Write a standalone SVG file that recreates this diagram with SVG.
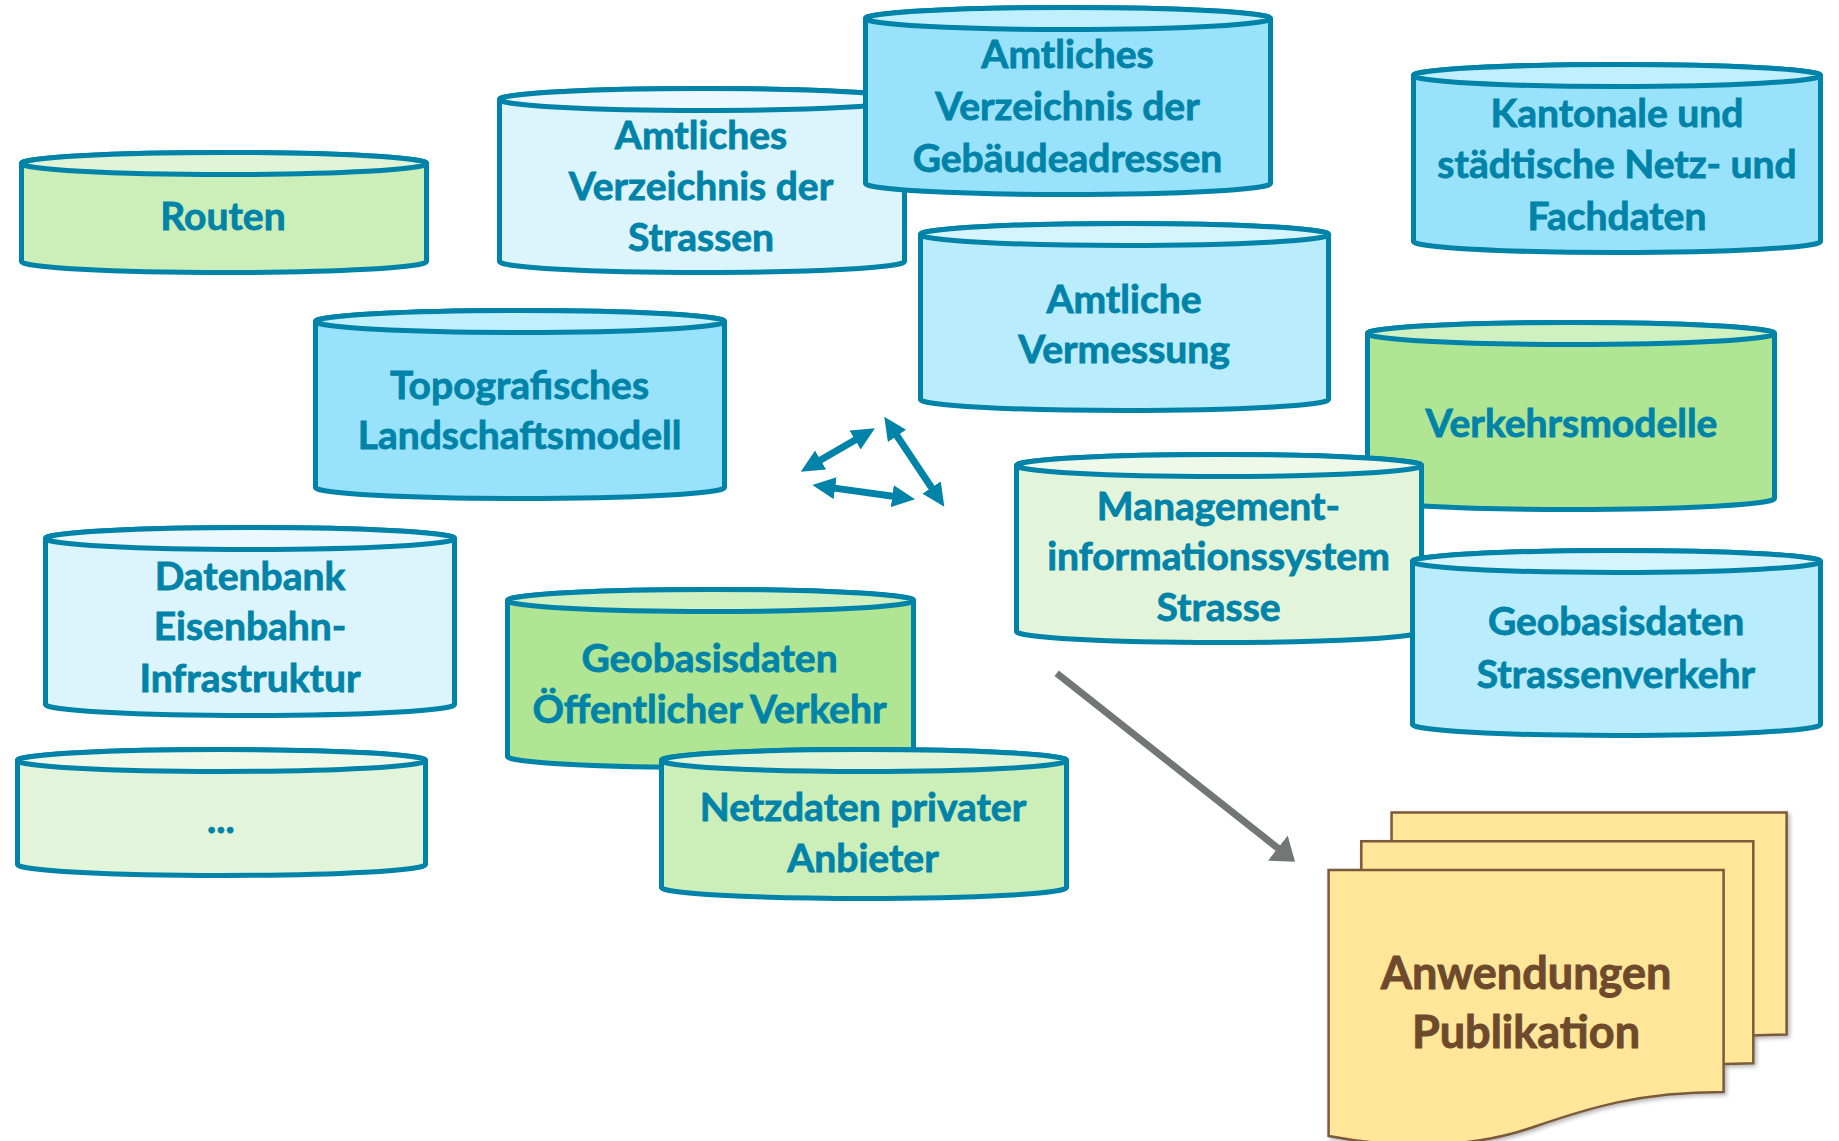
<svg xmlns="http://www.w3.org/2000/svg" width="1839" height="1141" viewBox="0 0 1839 1141">
<defs>
<style>
.cyl path, .cyl ellipse { stroke:#0083A8; stroke-width:5; stroke-linejoin:round; }
.t { font-family: Lato, "Open Sans", "Liberation Sans", sans-serif; font-weight:700; font-size:39px; fill:#0083A8; stroke:#0083A8; stroke-width:0.8; text-anchor:middle; }
.td { font-family: Lato, "Open Sans", "Liberation Sans", sans-serif; font-weight:700; font-size:45px; fill:#6E4A2C; stroke:#6E4A2C; stroke-width:0.9; text-anchor:middle; }
.g2b { fill:#AFE593; } .g2t { fill:#CFF0C1; }
.g1b { fill:#CCEEB9; } .g1t { fill:#E0F5D6; }
.g0b { fill:#E2F5DA; } .g0t { fill:#EEF9E9; }
.b2b { fill:#99E2FB; } .b2t { fill:#C0F0FD; }
.b1b { fill:#B9ECFC; } .b1t { fill:#D6F4FD; }
.b0b { fill:#DCF5FD; } .b0t { fill:#EBF9FE; }
.doc { fill:#FFE699; stroke:#7A5A3A; stroke-width:2.5; stroke-linejoin:miter; }
.ta { stroke:#0083A8; stroke-width:7; fill:none; marker-start:url(#ah); marker-end:url(#ah); }
.ga { stroke:#747576; stroke-width:7; fill:none; marker-end:url(#gh); }
</style>
<marker id="ah" markerUnits="userSpaceOnUse" viewBox="0 0 23 22" markerWidth="23" markerHeight="22" refX="8" refY="11" orient="auto-start-reverse">
<path d="M0,0 L23,11 L0,22 z" fill="#0083A8"/>
</marker>
<marker id="gh" markerUnits="userSpaceOnUse" viewBox="0 0 22 32" markerWidth="22" markerHeight="32" refX="6" refY="16" orient="auto">
<path d="M0,0 L22,16 L0,32 z" fill="#747576"/>
</marker>
<filter id="sh" x="-10%" y="-10%" width="125%" height="125%">
<feDropShadow dx="2" dy="2" stdDeviation="2" flood-color="#000" flood-opacity="0.3"/>
</filter>
</defs>
<rect width="1839" height="1141" fill="#FFFFFF"/>

<g id="routen" class="cyl">
<path class="g1b" d="M21.5,163.5 V261.5 A202.5,11 0 0 0 426.5,261.5 V163.5 A202.5,11 0 0 0 21.5,163.5 Z"/>
<ellipse class="g1t" cx="224" cy="163.5" rx="202.5" ry="11"/>
<text class="t" x="223" y="230">Routen</text>
</g>

<g id="strassen" class="cyl">
<path class="b0b" d="M499.5,99.5 V261.5 A202.5,11 0 0 0 904.5,261.5 V99.5 A202.5,11 0 0 0 499.5,99.5 Z"/>
<ellipse class="b0t" cx="702" cy="99.5" rx="202.5" ry="11"/>
<text class="t" x="701" y="149">Amtliches</text>
<text class="t" x="701" y="200">Verzeichnis der</text>
<text class="t" x="701" y="251">Strassen</text>
</g>

<g id="gebaeude" class="cyl">
<path class="b2b" d="M865.5,18.5 V183.5 A202.5,11 0 0 0 1270.5,183.5 V18.5 A202.5,11 0 0 0 865.5,18.5 Z"/>
<ellipse class="b2t" cx="1068" cy="18.5" rx="202.5" ry="11"/>
<text class="t" x="1067.5" y="68">Amtliches</text>
<text class="t" x="1067.5" y="120">Verzeichnis der</text>
<text class="t" x="1067.5" y="171.5">Gebäudeadressen</text>
</g>

<g id="kantonale" class="cyl">
<path class="b2b" d="M1413.5,75.5 V241.5 A203.5,11 0 0 0 1820.5,241.5 V75.5 A203.5,11 0 0 0 1413.5,75.5 Z"/>
<ellipse class="b2t" cx="1617" cy="75.5" rx="203.5" ry="11"/>
<text class="t" x="1617" y="127">Kantonale und</text>
<text class="t" x="1617" y="178">städtische Netz- und</text>
<text class="t" x="1617" y="230">Fachdaten</text>
</g>

<g id="topografisch" class="cyl">
<path class="b2b" d="M315.5,321.5 V487.5 A204.5,11 0 0 0 724.5,487.5 V321.5 A204.5,11 0 0 0 315.5,321.5 Z"/>
<ellipse class="b2t" cx="520" cy="321.5" rx="204.5" ry="11"/>
<text class="t" x="519.5" y="399">Topografisches</text>
<text class="t" x="519.5" y="449">Landschaftsmodell</text>
</g>

<g id="vermessung" class="cyl">
<path class="b1b" d="M920.5,234.5 V399.5 A204,11 0 0 0 1328.5,399.5 V234.5 A204,11 0 0 0 920.5,234.5 Z"/>
<ellipse class="b1t" cx="1124.5" cy="234.5" rx="204" ry="11"/>
<text class="t" x="1124" y="313">Amtliche</text>
<text class="t" x="1124" y="363">Vermessung</text>
</g>

<g id="verkehrsmodelle" class="cyl">
<path class="g2b" d="M1367.5,333.5 V498.5 A203.5,11 0 0 0 1774.5,498.5 V333.5 A203.5,11 0 0 0 1367.5,333.5 Z"/>
<ellipse class="g2t" cx="1571" cy="333.5" rx="203.5" ry="11"/>
<text class="t" x="1571.5" y="436.5">Verkehrsmodelle</text>
</g>

<g id="management" class="cyl">
<path class="g0b" d="M1016.5,465.5 V631.5 A202.5,11 0 0 0 1421.5,631.5 V465.5 A202.5,11 0 0 0 1016.5,465.5 Z"/>
<ellipse class="g0t" cx="1219" cy="465.5" rx="202.5" ry="11"/>
<text class="t" x="1218.5" y="520">Management-</text>
<text class="t" x="1218.5" y="570">informationssystem</text>
<text class="t" x="1218.5" y="621">Strasse</text>
</g>

<g id="geobasis-strassenverkehr" class="cyl">
<path class="b1b" d="M1412.5,561.5 V724.5 A204,11 0 0 0 1820.5,724.5 V561.5 A204,11 0 0 0 1412.5,561.5 Z"/>
<ellipse class="b1t" cx="1616.5" cy="561.5" rx="204" ry="11"/>
<text class="t" x="1616" y="635">Geobasisdaten</text>
<text class="t" x="1616" y="688">Strassenverkehr</text>
</g>

<g id="datenbank" class="cyl">
<path class="b0b" d="M45.5,538.5 V704.5 A204.5,11 0 0 0 454.5,704.5 V538.5 A204.5,11 0 0 0 45.5,538.5 Z"/>
<ellipse class="b0t" cx="250" cy="538.5" rx="204.5" ry="11"/>
<text class="t" x="250" y="590">Datenbank</text>
<text class="t" x="250" y="640">Eisenbahn-</text>
<text class="t" x="250" y="691.5">Infrastruktur</text>
</g>

<g id="geobasis-oev" class="cyl">
<path class="g2b" d="M507.5,600.5 V756.5 A203,11 0 0 0 913.5,756.5 V600.5 A203,11 0 0 0 507.5,600.5 Z"/>
<ellipse class="g2t" cx="710.5" cy="600.5" rx="203" ry="11"/>
<text class="t" x="709.5" y="672">Geobasisdaten</text>
<text class="t" x="709.5" y="722.5">Öffentlicher Verkehr</text>
</g>

<g id="netzdaten" class="cyl">
<path class="g1b" d="M661.5,760.5 V887.5 A202.5,11 0 0 0 1066.5,887.5 V760.5 A202.5,11 0 0 0 661.5,760.5 Z"/>
<ellipse class="g1t" cx="864" cy="760.5" rx="202.5" ry="11"/>
<text class="t" x="863" y="821">Netzdaten privater</text>
<text class="t" x="863" y="871.5">Anbieter</text>
</g>

<g id="weitere" class="cyl">
<path class="g0b" d="M17.5,760.5 V864.5 A204,11 0 0 0 425.5,864.5 V760.5 A204,11 0 0 0 17.5,760.5 Z"/>
<ellipse class="g0t" cx="221.5" cy="760.5" rx="204" ry="11"/>
<text class="t" x="221" y="833">...</text>
</g>

<g id="anwendungen">
<g filter="url(#sh)">
<path class="doc" transform="translate(1391.6,812.6)" d="M0,0 H395 V222 C310,222 260,238 205,257 C150,276 85,282 0,266 Z"/>
<path class="doc" transform="translate(1361.3,841.3)" d="M0,0 H392 V222 C310,222 260,238 205,257 C150,276 85,282 0,266 Z"/>
<path class="doc" transform="translate(1328.6,870)" d="M0,0 H395 V222 C310,222 260,238 205,257 C150,276 85,282 0,266 Z"/>
</g>
<text class="td" x="1526" y="989">Anwendungen</text>
<text class="td" x="1526" y="1048">Publikation</text>
</g>

<g id="connectors">
<line class="ta" x1="813.7" y1="464.1" x2="862" y2="435.9"/>
<line class="ta" x1="892.6" y1="429.2" x2="936" y2="494.2"/>
<line class="ta" x1="827.2" y1="487.1" x2="900.2" y2="497.2"/>
<line class="ga" x1="1056.7" y1="673.3" x2="1282.5" y2="851.8"/>
</g>
</svg>
